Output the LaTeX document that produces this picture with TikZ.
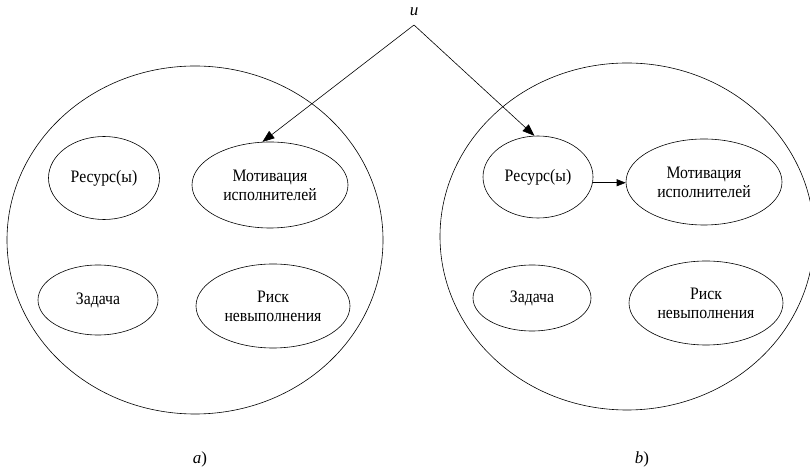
\documentclass[tikz,border=0pt]{standalone}
\usepackage{fontspec}
\setmainfont{Liberation Serif}
\newfontfamily\tnr{Liberation Serif}[FakeStretch=0.9]
\usetikzlibrary{arrows.meta,shapes.geometric}
\begin{document}
\begin{tikzpicture}[x=1bp,y=-1bp, line width=0.6bp,
  inner/.style={ellipse, draw, inner sep=0pt, align=center, font=\tnr\fontsize{17.5bp}{19bp}\selectfont},
  big/.style={ellipse, draw, inner sep=0pt},
  bigtip/.style={-{Triangle[length=12bp,width=9bp]}},
  smalltip/.style={-{Triangle[length=9bp,width=7bp]}},
  lab/.style={font=\fontsize{17bp}{17bp}\selectfont, inner sep=0pt}]
\useasboundingbox (0,0) rectangle (810,468);
\clip (0,0) rectangle (810,468);
% left panel
\node[big, minimum width=376bp, minimum height=348bp] (circA) at (195,240) {};
\node[inner, minimum width=111bp, minimum height=83bp] (resA) at (104,178) {Ресурс(ы)};
\node[inner, minimum width=156bp, minimum height=86bp] (motA) at (270,185) {Мотивация\\исполнителей};
\node[inner, minimum width=120bp, minimum height=70bp] (zadA) at (98,300) {Задача};
\node[inner, minimum width=154bp, minimum height=84bp] (riskA) at (273,306) {Риск\\невыполнения};
% right panel
\node[big, minimum width=374bp, minimum height=347bp] (circB) at (627,236.5) {};
\node[inner, minimum width=110bp, minimum height=82bp] (resB) at (538,177) {Ресурс(ы)};
\node[inner, minimum width=156bp, minimum height=86bp] (motB) at (704,182) {Мотивация\\исполнителей};
\node[inner, minimum width=118bp, minimum height=66bp] (zadB) at (532,298) {Задача};
\node[inner, minimum width=154bp, minimum height=84bp] (riskB) at (706,303) {Риск\\невыполнения};
% control input
\coordinate (apex) at (414,25);
\node[lab, font=\fontsize{17bp}{17bp}\selectfont\itshape] (u) at (414,12) {u};
\draw[bigtip] (apex) -- (motA.100);
\draw[bigtip] (apex) -- (resB.95);
\draw[smalltip] (resB.-6) -- (resB.-6 -| motB.west);
% captions
\node[lab] (capA) at (200,459) {\textit{a})};
\node[lab] (capB) at (642,459) {\textit{b})};
\end{tikzpicture}
\end{document}
